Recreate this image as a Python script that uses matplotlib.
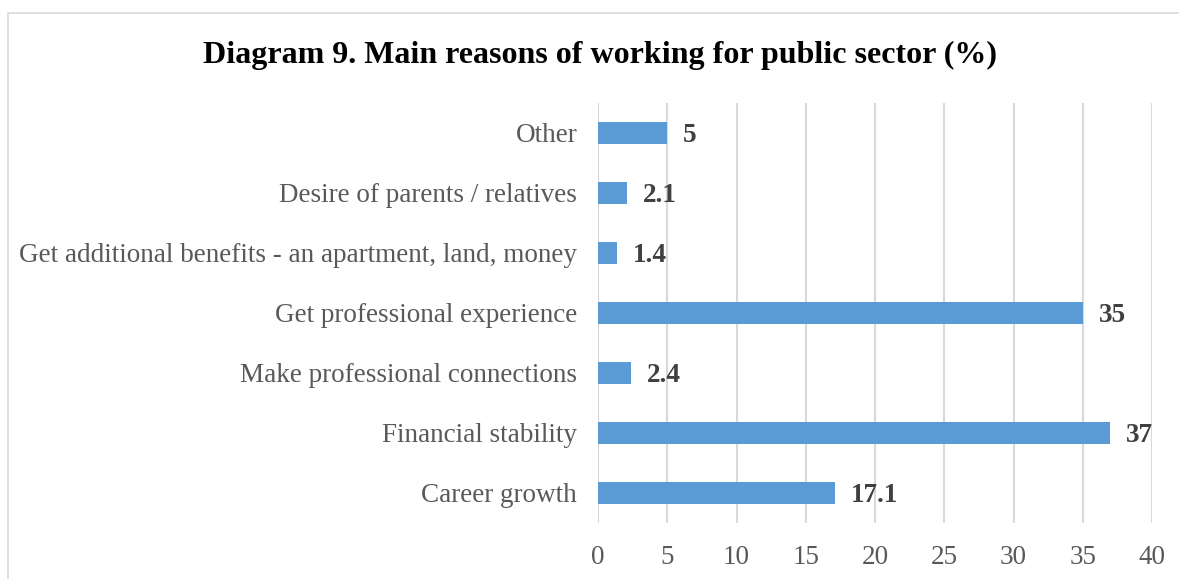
import numpy as np
import matplotlib.pyplot as plt
from matplotlib.patches import Rectangle

categories = ["Career growth", "Financial stability", "Make professional connections",
              "Get professional experience",
              "Get additional benefits - an apartment, land, money",
              "Desire of parents / relatives", "Other"]
values = [17.1, 37, 2.4, 35, 1.4, 2.1, 5]
labels = ["17.1", "37", "2.4", "35", "1.4", "2.1", "5"]

plt.rcParams['font.family'] = ['Liberation Serif', 'DejaVu Serif']

W, H = 1179, 579
fig = plt.figure(figsize=(W / 100, H / 100), dpi=100)
ax = fig.add_axes([598 / W, 1 - 523 / H, (1152 - 598) / W, 420 / H])

y = np.arange(len(categories))
ax.barh(y, values, height=0.37, color='#5B9BD5', zorder=3)
for yi, v, lab in zip(y, values, labels):
    ax.text(v + 1.15, yi, lab, va='center_baseline', ha='left', fontsize=19.5,
            fontweight='bold', color='#404040')

ax.set_xlim(0, 40)
ax.set_ylim(-0.5, len(categories) - 0.5)
ax.set_xticks(range(0, 41, 5))
ax.set_yticks(y)
ax.set_yticklabels(categories)
ax.tick_params(axis='both', length=0, labelsize=19.5, colors='#595959')
ax.tick_params(axis='y', pad=15)
ax.tick_params(axis='x', pad=16)
ax.grid(axis='x', color='#D9D9D9', linewidth=1.5, zorder=0)
for s in ax.spines.values():
    s.set_visible(False)

fig.text(600 / W, 1 - 55 / H, "Diagram 9. Main reasons of working for public sector (%)",
         ha='center', va='center', fontsize=23, fontweight='bold', color='black')

fig.patches.append(Rectangle((8 / W, -0.1), 1.2, 1 - 13 / H + 0.1,
                             transform=fig.transFigure, fill=False,
                             edgecolor='#D9D9D9', linewidth=1.2))

fig.savefig("out.png", dpi=100)
